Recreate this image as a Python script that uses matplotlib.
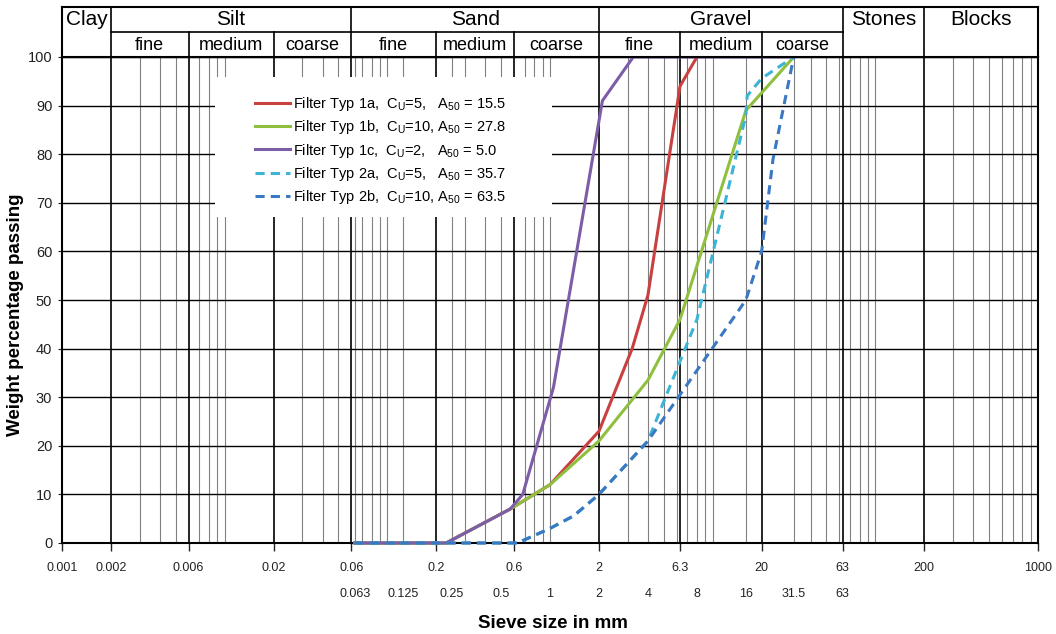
import matplotlib
matplotlib.use("Agg")
import matplotlib.pyplot as plt
from matplotlib.patches import Rectangle
from matplotlib.ticker import NullFormatter

plt.rcParams['font.family'] = ['Liberation Sans', 'DejaVu Sans']
plt.rcParams['mathtext.fontset'] = 'custom'
plt.rcParams['mathtext.rm'] = 'Liberation Sans'
plt.rcParams['mathtext.it'] = 'Liberation Sans:italic'
plt.rcParams['mathtext.default'] = 'regular'

# grain size curves (sieve size in mm, weight percentage passing)
typ1a_d = [0.063, 0.23, 0.57, 1.0, 2.0, 3.2, 4.0, 6.3, 8.0]
typ1a_p = [0, 0, 7, 12, 23, 40, 51, 94, 100]
typ1b_d = [0.063, 0.23, 0.57, 1.0, 2.0, 4.0, 6.3, 16, 31.5]
typ1b_p = [0, 0, 7, 12, 21, 33.5, 46, 89, 100]
typ1c_d = [0.063, 0.23, 0.57, 0.68, 1.05, 2.1, 3.25, 31.5]
typ1c_p = [0, 0, 7, 10, 32, 91, 100, 100]
typ2a_d = [0.063, 0.63, 1.0, 1.4, 2.0, 4.0, 8.0, 16, 16.3, 20, 31.5]
typ2a_p = [0, 0, 3, 5.6, 10, 21, 46, 88, 92, 95.6, 100]
typ2b_d = [0.063, 0.63, 1.0, 1.4, 2.0, 4.0, 16, 20, 23.5, 31.5]
typ2b_p = [0, 0, 3, 5.6, 10, 21, 50, 60, 79, 100]

labels = ["Filter Typ 1a,  $C_U$=5,   $A_{50}$ = 15.5",
          "Filter Typ 1b,  $C_U$=10, $A_{50}$ = 27.8",
          "Filter Typ 1c,  $C_U$=2,   $A_{50}$ = 5.0",
          "Filter Typ 2a,  $C_U$=5,   $A_{50}$ = 35.7",
          "Filter Typ 2b,  $C_U$=10, $A_{50}$ = 63.5"]
colors = ['#c94040', '#8fbf3f', '#7d5ca8', '#3db3d6', '#3a78c2']

# axis ticks
bound_ticks = [0.001, 0.002, 0.006, 0.02, 0.06, 0.2, 0.6, 2, 6.3, 20, 63, 200, 1000]
bound_labels = ['0.001', '0.002', '0.006', '0.02', '0.06', '0.2', '0.6', '2', '6.3', '20', '63', '200', '1000']
sieve_ticks = [0.063, 0.125, 0.25, 0.5, 1, 2, 4, 8, 16, 31.5, 63]
sieve_labels = ['0.063', '0.125', '0.25', '0.5', '1', '2', '4', '8', '16', '31.5', '63']
minor_lines = [n * 10.0 ** k for k in range(-3, 3) for n in range(3, 11)
               if not (n == 6 and k < 0) and not (n == 3 and k == 1)]
minor_lines = sorted(set([round(v, 6) for v in minor_lines] + [0.063, 0.125, 0.25, 0.5, 4, 8, 16, 31.5]))

# soil classes for header
main_classes = [('Clay', 0.001, 0.002), ('Silt', 0.002, 0.06), ('Sand', 0.06, 2),
                ('Gravel', 2, 63), ('Stones', 63, 200), ('Blocks', 200, 1000)]
sub_classes = [('fine', 0.002, 0.006), ('medium', 0.006, 0.02), ('coarse', 0.02, 0.06),
               ('fine', 0.06, 0.2), ('medium', 0.2, 0.6), ('coarse', 0.6, 2),
               ('fine', 2, 6.3), ('medium', 6.3, 20), ('coarse', 20, 63)]

W, H = 1056, 634
fig = plt.figure(figsize=(W / 100, H / 100), dpi=100)
ax = fig.add_axes([62 / W, 1 - 543 / H, 976 / W, 486 / H])
hx = fig.add_axes([62 / W, 1 - 57 / H, 976 / W, 50 / H])

ax.set_xscale('log')
ax.set_xlim(0.001, 1000)
ax.set_ylim(0, 100)
ax.set_axisbelow(True)

ax.set_xticks(bound_ticks, labels=bound_labels)
ax.set_xticks(minor_lines, minor=True)
ax.xaxis.set_minor_formatter(NullFormatter())
ax.set_yticks(range(0, 101, 10))
ax.grid(which='major', axis='x', color='black', lw=1.2)
ax.grid(which='minor', axis='x', color='#808080', lw=0.8)
ax.grid(which='major', axis='y', color='black', lw=1.0)
ax.tick_params(axis='x', which='major', length=6, width=1, pad=8, labelsize=9, colors='#222222')
ax.tick_params(axis='x', which='minor', length=0)
ax.tick_params(axis='y', length=3, pad=4, labelsize=10.5, colors='#222222')
for s in ax.spines.values():
    s.set_linewidth(1.5)

for d, lab in zip(sieve_ticks, sieve_labels):
    ax.text(d, -0.105, lab, transform=ax.get_xaxis_transform(), ha='center', va='center',
            fontsize=9, color='#222222')

# white box behind the legend
ax.add_patch(Rectangle((0.1568, 0.6708), 0.3453, 0.288, transform=ax.transAxes,
                       facecolor='white', edgecolor='none', zorder=1))

series = [(typ1a_d, typ1a_p, '-'), (typ1b_d, typ1b_p, '-'), (typ1c_d, typ1c_p, '-'),
          (typ2a_d, typ2a_p, '--'), (typ2b_d, typ2b_p, '--')]
for (d, p, ls), c, lab in zip(series, colors, labels):
    ax.plot(d, p, ls, color=c, lw=2.2, label=lab, zorder=3, clip_on=False,
            dashes=(3, 2) if ls == '--' else (None, None))

ax.legend(loc='upper left', bbox_to_anchor=(0.1977, 0.921), frameon=False, borderpad=0,
          borderaxespad=0, fontsize=10.5, handlelength=2.4, handletextpad=0.2,
          labelspacing=0.35)

# header with soil classes
hx.set_xscale('log')
hx.set_xlim(0.001, 1000)
hx.set_ylim(0, 2)
hx.set_xticks([])
hx.set_yticks([])
hx.xaxis.set_minor_locator(matplotlib.ticker.NullLocator())
for s in hx.spines.values():
    s.set_linewidth(1.5)
for name, a, b in main_classes:
    if a > 0.001:
        hx.plot([a, a], [0, 2], color='black', lw=1.2)
    hx.text((a * b) ** 0.5, 1.5, name, ha='center', va='center', fontsize=15)
for name, a, b in sub_classes:
    if a not in (0.002, 0.06, 2):
        hx.plot([a, a], [0, 1], color='black', lw=1.2)
    hx.text((a * b) ** 0.5, 0.48, name, ha='center', va='center', fontsize=13)
hx.plot([0.002, 63], [1, 1], color='black', lw=1.2)

fig.text(16 / W, 1 - 315 / H, 'Weight percentage passing', rotation=90, ha='center',
         va='center', fontsize=13.5, fontweight='bold')
fig.text(553 / W, 1 - 623 / H, 'Sieve size in mm', ha='center', va='center',
         fontsize=13.5, fontweight='bold')

fig.savefig('out.png', dpi=100)
